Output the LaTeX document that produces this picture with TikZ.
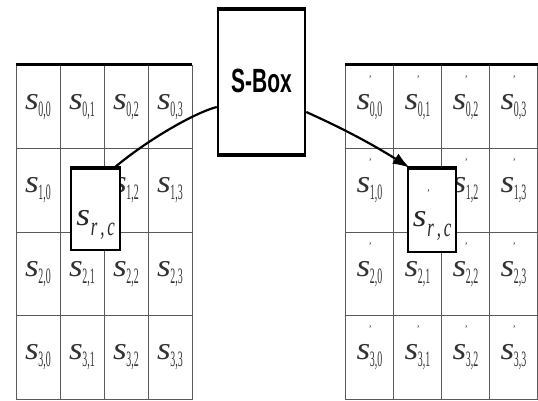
\documentclass[tikz,border=0pt]{standalone}
\usepackage{fontspec}
\setmainfont{Liberation Serif}
\setsansfont{Liberation Sans}
\usetikzlibrary{arrows.meta}
\newcommand{\sS}{\scalebox{1.1}[1]{\fontsize{32}{32}\selectfont\itshape s}}
\newcommand{\cellS}[1]{\sS\kern-0.5pt\raisebox{-7pt}{\scalebox{0.45}[1]{\fontsize{22}{22}\selectfont #1}}}
\newcommand{\primeAt}[2]{\makebox[0pt][l]{\hspace{#1}\smash{\raisebox{#2}{\fontsize{10}{10}\selectfont '}}}}
\newcommand{\cellP}[1]{\primeAt{12pt}{27pt}\cellS{#1}}
\newcommand{\rcS}{\sS\kern1pt\raisebox{-10pt}{\scalebox{0.7}[1.1]{\fontsize{24}{24}\selectfont\itshape r\,,\,c}}}
\begin{document}
\begin{tikzpicture}[x=1pt,y=-1pt,
  cellL/.style={draw=gray!70!black, line width=0.9pt, minimum width=44pt, minimum height=83.5pt, inner sep=0pt, text=black!80},
  cellR/.style={draw=gray!70!black, line width=0.9pt, minimum width=48pt, minimum height=83.5pt, inner sep=0pt, text=black!80},
  topline/.style={line width=2.2pt, black},
  smallbox/.style={draw=black, line width=2.5pt, fill=white, inner sep=0pt},
  edge/.style={line width=3.5pt, black},
  sboxst/.style={draw=black, line width=2.5pt, fill=white, inner sep=0pt, minimum width=87pt, minimum height=144pt, font=\sffamily\bfseries\fontsize{21}{21}\selectfont},
  conn/.style={line width=2.2pt, black}]
\useasboundingbox (0,0) rectangle (538,401);
\fill[white] (0,0) rectangle (538,401);
\foreach \r in {0,...,3} {
  \foreach \c in {0,...,3} {
    \ifnum\r\c=11
      \node[cellL] (L\r\c) at ({38+44*\c},{106.75+83.5*\r}) {};
      \node[cellR] (R\r\c) at ({369.5+48*\c},{106.75+83.5*\r}) {};
    \else
      \node[cellL] (L\r\c) at ({38+44*\c},{106.75+83.5*\r}) {\cellS{\r,\c}};
      \node[cellR] (R\r\c) at ({369.5+48*\c},{106.75+83.5*\r}) {\cellP{\r,\c}};
    \fi
  }
}
\draw[topline] (L00.north west) -- (L03.north east);
\draw[topline] (R00.north west) -- (R03.north east);
\node[smallbox, minimum width=49pt, minimum height=81pt,
  label={[name=Ltxt, yshift=-15pt, text=black!85]center:\rcS}] (Lbox) at (95.5,209.5) {};
\node[smallbox, minimum width=48pt, minimum height=83pt,
  label={[name=Rtxt, yshift=-15pt, text=black!85]center:\primeAt{14pt}{30pt}\rcS}] (Rbox) at (432,210.5) {};
\draw[edge] (Lbox.north west) -- (Lbox.north east);
\draw[edge] (Rbox.north west) -- (Rbox.north east);
\node[sboxst] (sbox) at (261.5,82) {\raisebox{3pt}{\scalebox{1}[1.6]{S-Box}}};
\draw[edge] (sbox.north west) -- (sbox.north east);
\draw[edge] (sbox.south west) -- (sbox.south east);
\draw[conn] ([xshift=-7pt]Lbox.north east) .. controls +(32,-27) and +(-23,6) .. ([yshift=-25pt]sbox.west);
\draw[conn,-{Latex[length=17pt,width=12pt]}] ([yshift=-30pt]sbox.east) .. controls +(40,18) and +(-35,-22) .. ([xshift=3pt]Rbox.north west);
\end{tikzpicture}
\end{document}
